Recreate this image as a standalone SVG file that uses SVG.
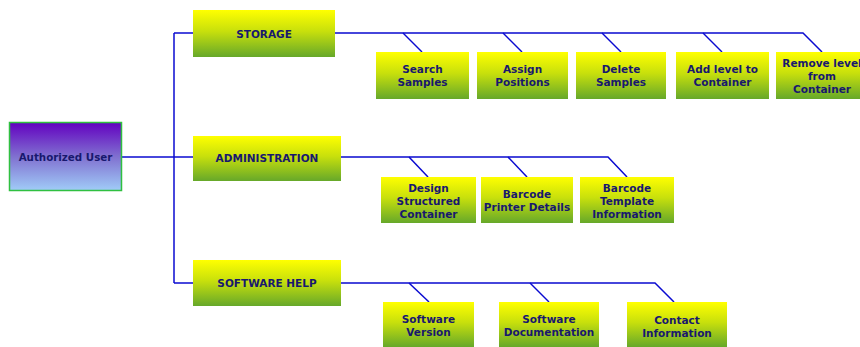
<svg xmlns="http://www.w3.org/2000/svg" width="860" height="347" viewBox="0 0 860 347">
<defs>
<linearGradient id="gy" x1="0" y1="0" x2="0" y2="1">
<stop offset="0" stop-color="#ffff00"/>
<stop offset="0.45" stop-color="#c8e00c"/>
<stop offset="1" stop-color="#66a82a"/>
</linearGradient>
<linearGradient id="gp" x1="0" y1="0" x2="0" y2="1">
<stop offset="0" stop-color="#6200c0"/>
<stop offset="0.5" stop-color="#8070d0"/>
<stop offset="1" stop-color="#a0ccf8"/>
</linearGradient>
<style>
.b{fill:url(#gy);stroke:none}
.t{font-family:"DejaVu Sans",Verdana,sans-serif;font-weight:bold;font-size:10.5px;fill:#18186e;text-anchor:middle}
.u{font-size:10.3px}
.c{fill:none;stroke:#0a0ad0;stroke-width:1.5}
</style>
</defs>
<rect width="860" height="347" fill="#ffffff"/>
<g id="connectors" class="c">
<polyline points="122,157 174,157"/>
<polyline points="174,33 174,283"/>
<polyline points="174,33 193,33"/>
<polyline points="174,157 193,157"/>
<polyline points="174,283 193,283"/>
<polyline points="335,33 803,33 822,52"/>
<polyline points="403,33 422,52"/>
<polyline points="503,33 522,52"/>
<polyline points="602,33 621,52"/>
<polyline points="703,33 722,52"/>
<polyline points="341,157 608,157 627,177"/>
<polyline points="409,157 428,177"/>
<polyline points="508,157 527,177"/>
<polyline points="341,283 655,283 674,302"/>
<polyline points="409,283 429,302"/>
<polyline points="530,283 549,302"/>
</g>
<g id="user">
<rect x="9.5" y="122.5" width="112" height="68" fill="url(#gp)" stroke="#30c040" stroke-width="1.5"/>
<text class="t u" x="65.5" y="160.5">Authorized User</text>
</g>
<g id="storage">
<rect class="b" x="193" y="10" width="142" height="47"/>
<text class="t" x="264" y="37.5">STORAGE</text>
</g>
<g id="administration">
<rect class="b" x="193" y="136" width="148" height="45"/>
<text class="t" x="267" y="162">ADMINISTRATION</text>
</g>
<g id="software-help">
<rect class="b" x="193" y="260" width="148" height="46"/>
<text class="t" x="267" y="287">SOFTWARE HELP</text>
</g>
<g id="search-samples">
<rect class="b" x="376" y="52" width="93" height="47"/>
<text class="t" x="422.5" y="73">Search</text>
<text class="t" x="422.5" y="86">Samples</text>
</g>
<g id="assign-positions">
<rect class="b" x="477" y="52" width="91" height="47"/>
<text class="t" x="522.5" y="73">Assign</text>
<text class="t" x="522.5" y="86">Positions</text>
</g>
<g id="delete-samples">
<rect class="b" x="576" y="52" width="90" height="47"/>
<text class="t" x="621" y="73">Delete</text>
<text class="t" x="621" y="86">Samples</text>
</g>
<g id="add-level">
<rect class="b" x="676" y="52" width="93" height="47"/>
<text class="t" x="722.5" y="73">Add level to</text>
<text class="t" x="722.5" y="86">Container</text>
</g>
<g id="remove-level">
<rect class="b" x="776" y="52" width="93" height="47"/>
<text class="t" x="822" y="67">Remove level</text>
<text class="t" x="822" y="80">from</text>
<text class="t" x="822" y="93">Container</text>
</g>
<g id="design-container">
<rect class="b" x="381" y="177" width="95" height="46"/>
<text class="t" x="428.5" y="191.5">Design</text>
<text class="t" x="428.5" y="204.5">Structured</text>
<text class="t" x="428.5" y="217.5">Container</text>
</g>
<g id="barcode-printer">
<rect class="b" x="481" y="177" width="92" height="46"/>
<text class="t" x="527" y="198">Barcode</text>
<text class="t" x="527" y="211">Printer Details</text>
</g>
<g id="barcode-template">
<rect class="b" x="580" y="177" width="94" height="46"/>
<text class="t" x="627" y="191.5">Barcode</text>
<text class="t" x="627" y="204.5">Template</text>
<text class="t" x="627" y="217.5">Information</text>
</g>
<g id="software-version">
<rect class="b" x="383" y="302" width="91" height="45"/>
<text class="t" x="428.5" y="323">Software</text>
<text class="t" x="428.5" y="336">Version</text>
</g>
<g id="software-documentation">
<rect class="b" x="499" y="302" width="100" height="45"/>
<text class="t" x="549" y="323">Software</text>
<text class="t" x="549" y="336">Documentation</text>
</g>
<g id="contact-information">
<rect class="b" x="627" y="302" width="100" height="45"/>
<text class="t" x="677" y="324">Contact</text>
<text class="t" x="677" y="337">Information</text>
</g>
</svg>
